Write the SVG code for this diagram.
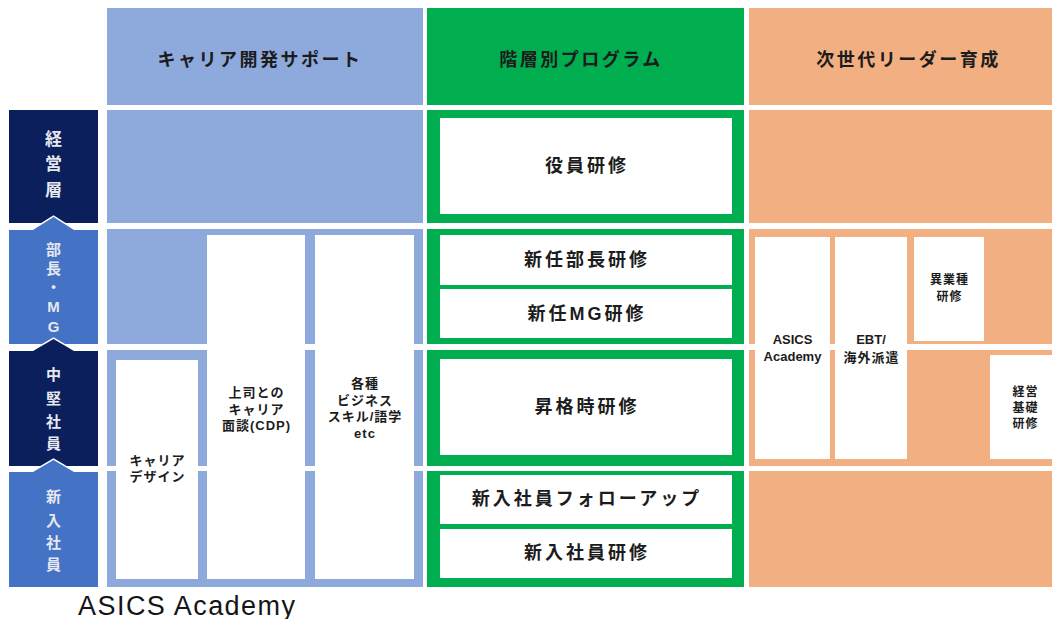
<svg xmlns="http://www.w3.org/2000/svg" width="1052" height="619" viewBox="0 0 1052 619">
<style>
  .blue{fill:#8eaadc}
  .green{fill:#00ad4f}
  .orange{fill:#f2af82}
  .navy{fill:#0b1f5c}
  .mid{fill:#4472c4}
  .wbox{fill:#ffffff}
  .arrow{stroke:#ffffff;stroke-width:3;paint-order:stroke;stroke-linejoin:miter}
  text{font-family:"Liberation Sans","Noto Sans CJK JP",sans-serif;font-weight:bold;fill:#1c1c1c;text-anchor:middle;dominant-baseline:central}
  .hd{font-size:18px;letter-spacing:2.5px}
  .lbl{font-size:18px;letter-spacing:3px}
  .sm{font-size:13px;letter-spacing:1px}
  .xs{font-size:12px;letter-spacing:1px}
  .side{fill:#e6e8f0;font-size:15px}
  .side17{fill:#e6e8f0;font-size:17px}
  .foot{font-weight:normal;font-size:27px;dominant-baseline:alphabetic;text-anchor:start;fill:#151515}
</style>
<rect width="1052" height="619" fill="#ffffff"/>

<!-- Left level labels -->
<g id="level-keiei">
  <rect class="navy" x="9" y="110" width="89" height="113"/>
  <text class="side17" x="53.5" y="139">経</text>
  <text class="side17" x="53.5" y="164">営</text>
  <text class="side17" x="53.5" y="190">層</text>
</g>
<g id="level-bucho">
  <polygon class="mid arrow" points="9,344 9,230 33,230 53.5,217 74,230 98,230 98,344"/>
  <text class="side" x="53.5" y="249">部</text>
  <text class="side" x="53.5" y="268">長</text>
  <text class="side" x="53.5" y="287">・</text>
  <text class="side" x="53.5" y="306">M</text>
  <text class="side" x="53.5" y="326">G</text>
</g>
<g id="level-chuken">
  <polygon class="navy arrow" points="9,466 9,351 33,351 53.5,339 74,351 98,351 98,466"/>
  <text class="side" x="53.5" y="374">中</text>
  <text class="side" x="53.5" y="398">堅</text>
  <text class="side" x="53.5" y="421">社</text>
  <text class="side" x="53.5" y="443">員</text>
</g>
<g id="level-shinnyu">
  <polygon class="mid arrow" points="9,587 9,472 33,472 53.5,460 74,472 98,472 98,587"/>
  <text class="side" x="53.5" y="496">新</text>
  <text class="side" x="53.5" y="520">入</text>
  <text class="side" x="53.5" y="542">社</text>
  <text class="side" x="53.5" y="564">員</text>
</g>

<!-- Column 1: career development support -->
<g id="col-career">
  <rect class="blue" x="107" y="8" width="316" height="97"/>
  <text class="hd" x="260" y="60">キャリア開発サポート</text>
  <rect class="blue" x="107" y="110" width="316" height="113"/>
  <rect class="blue" x="107" y="229" width="316" height="115"/>
  <rect class="blue" x="107" y="350" width="316" height="116"/>
  <rect class="blue" x="107" y="471" width="316" height="116"/>
</g>
<g id="career-design">
  <rect class="wbox" x="116" y="360" width="82" height="219"/>
  <text class="sm" x="157.5" y="460">キャリア</text>
  <text class="sm" x="157.5" y="476">デザイン</text>
</g>
<g id="career-cdp">
  <rect class="wbox" x="207" y="235" width="98" height="344"/>
  <text class="sm" x="256.5" y="392">上司との</text>
  <text class="sm" x="256.5" y="409">キャリア</text>
  <text class="sm" x="256.5" y="425">面談(CDP)</text>
</g>
<g id="career-skills">
  <rect class="wbox" x="315" y="235" width="99" height="344"/>
  <text class="sm" x="365" y="383">各種</text>
  <text class="sm" x="365" y="400">ビジネス</text>
  <text class="sm" x="365" y="416">スキル/語学</text>
  <text class="sm" x="365" y="433">etc</text>
</g>

<!-- Column 2: tiered programs -->
<g id="col-tier">
  <rect class="green" x="427" y="8" width="317" height="97"/>
  <text class="hd" x="581" y="60">階層別プログラム</text>
  <rect class="green" x="427" y="110" width="317" height="113"/>
  <rect class="green" x="427" y="229" width="317" height="115"/>
  <rect class="green" x="427" y="350" width="317" height="116"/>
  <rect class="green" x="427" y="471" width="317" height="116"/>
</g>
<g id="tier-yakuin">
  <rect class="wbox" x="440" y="118" width="292" height="96"/>
  <text class="lbl" x="587" y="166">役員研修</text>
</g>
<g id="tier-bucho">
  <rect class="wbox" x="440" y="235" width="292" height="50"/>
  <text class="lbl" x="587" y="260">新任部長研修</text>
</g>
<g id="tier-mg">
  <rect class="wbox" x="440" y="289" width="292" height="49"/>
  <text class="lbl" x="587" y="314">新任MG研修</text>
</g>
<g id="tier-shokaku">
  <rect class="wbox" x="440" y="359" width="292" height="96"/>
  <text class="lbl" x="587" y="407">昇格時研修</text>
</g>
<g id="tier-follow">
  <rect class="wbox" x="440" y="475" width="292" height="49"/>
  <text class="lbl" x="587" y="499">新入社員フォローアップ</text>
</g>
<g id="tier-shinnyu">
  <rect class="wbox" x="440" y="529" width="292" height="49"/>
  <text class="lbl" x="587" y="553">新入社員研修</text>
</g>

<!-- Column 3: next-generation leaders -->
<g id="col-leader">
  <rect class="orange" x="749" y="8" width="303" height="97"/>
  <text class="hd" x="908.5" y="60">次世代リーダー育成</text>
  <rect class="orange" x="749" y="110" width="303" height="113"/>
  <rect class="orange" x="749" y="229" width="303" height="115"/>
  <rect class="orange" x="749" y="350" width="303" height="116"/>
  <rect class="orange" x="749" y="471" width="303" height="116"/>
</g>
<g id="leader-academy">
  <rect class="wbox" x="755" y="237" width="75" height="222"/>
  <text class="sm" x="792.5" y="339" style="letter-spacing:0">ASICS</text>
  <text class="sm" x="792.5" y="356" style="letter-spacing:0">Academy</text>
</g>
<g id="leader-ebt">
  <rect class="wbox" x="835" y="237" width="72" height="222"/>
  <text class="sm" x="871" y="339" style="letter-spacing:0">EBT/</text>
  <text class="sm" x="871.5" y="357">海外派遣</text>
</g>
<g id="leader-igyoshu">
  <rect class="wbox" x="914" y="237" width="70" height="104"/>
  <text class="xs" x="949.5" y="280">異業種</text>
  <text class="xs" x="949.5" y="297">研修</text>
</g>
<g id="leader-keiei">
  <rect class="wbox" x="990" y="355" width="62" height="104"/>
  <text class="xs" x="1025.5" y="392">経営</text>
  <text class="xs" x="1025.5" y="408">基礎</text>
  <text class="xs" x="1025.5" y="424">研修</text>
</g>

<g id="footer">
  <text class="foot" x="78" y="615" textLength="217" lengthAdjust="spacing">ASICS Academy</text>
</g>
</svg>
